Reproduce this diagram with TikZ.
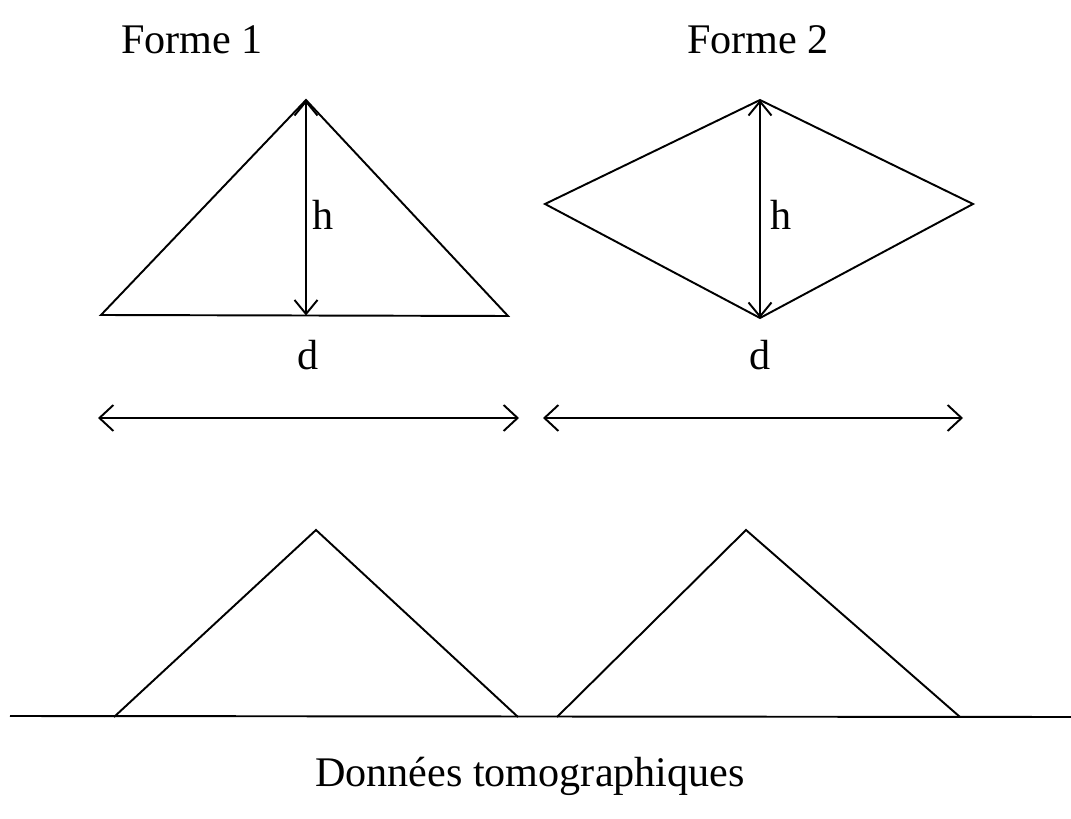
\documentclass[tikz,border=0pt]{standalone}
\usepackage{fontspec}
\setmainfont{Liberation Serif}
\usetikzlibrary{arrows.meta}

\begin{document}
\begin{tikzpicture}[line width=1.1pt,
    every node/.style={font=\fontsize{24}{28}\selectfont},
    dim/.style={{Straight Barb[length=2.8mm,width=5.2mm]}-{Straight Barb[length=2.8mm,width=5.2mm]}},
    hdim/.style={{Straight Barb[length=2.8mm,width=4.6mm]}-{Straight Barb[length=2.8mm,width=4.6mm]}}]
  \useasboundingbox (0,0) rectangle (21.42,16.36);

  % titles
  \node (t1) at (3.84,15.56) {Forme 1};
  \node (t2) at (15.16,15.56) {Forme 2};

  % forme 1
  \coordinate (A1) at (6.12,14.36);
  \coordinate (B1) at (2.02,10.06);
  \coordinate (C1) at (10.16,10.04);
  \coordinate (H1) at (6.12,10.05);
  \draw (B1) -- (A1) -- (C1) -- cycle;
  \draw[hdim] (A1) -- (H1);
  \node[anchor=west] (h1) at (6.12,12.06) {h};

  % forme 2
  \coordinate (T2) at (15.2,14.36);
  \coordinate (L2) at (10.9,12.28);
  \coordinate (R2) at (19.46,12.28);
  \coordinate (D2) at (15.2,10.0);
  \draw (T2) -- (L2) -- (D2) -- (R2) -- cycle;
  \draw[hdim] (T2) -- (D2);
  \node[anchor=west] (h2) at (15.28,12.06) {h};

  % largeurs
  \node (d1) at (6.16,9.26) {d};
  \node (d2) at (15.2,9.26) {d};
  \coordinate (P1) at (1.96,8.0);
  \coordinate (Q1) at (10.38,8.0);
  \coordinate (P2) at (10.86,8.0);
  \coordinate (Q2) at (19.26,8.0);
  \draw[dim] (P1) -- (Q1);
  \draw[dim] (P2) -- (Q2);

  % donnees
  \coordinate (S0) at (0.2,2.04);
  \coordinate (S1) at (21.42,2.02);
  \draw (S0) -- (S1);
  \coordinate (M1) at (6.32,5.76);
  \coordinate (M2) at (14.92,5.76);
  \draw (2.28,2.02) -- (M1) -- (10.36,2.02);
  \draw (11.14,2.02) -- (M2) -- (19.2,2.02);
  \node (tomo) at (10.6,0.84) {Données tomographiques};
\end{tikzpicture}
\end{document}
